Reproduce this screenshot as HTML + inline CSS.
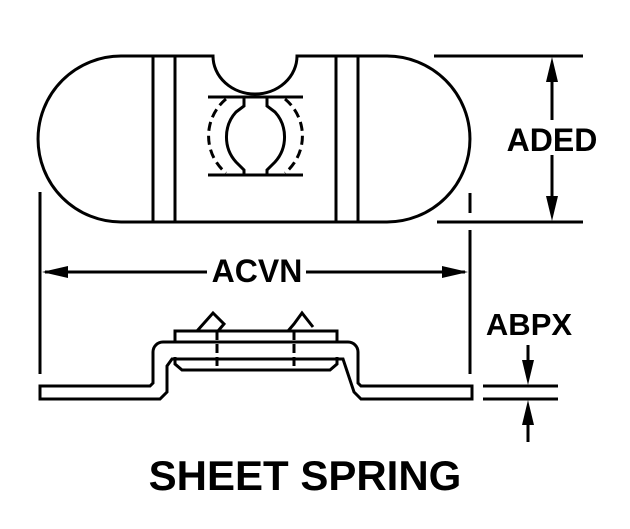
<!DOCTYPE html>
<html><head><style>body{margin:0;background:#fff}svg{display:block}</style></head><body>
<svg width="630" height="529" viewBox="0 0 630 529" xmlns="http://www.w3.org/2000/svg" fill="none" stroke="#000" stroke-width="3">
<path d="M121 56 H213 A42 38 0 0 0 297 56 H387 A83 83 0 0 1 387 222 H121 A83 83 0 0 1 121 56 Z"/>
<line x1="153" y1="56" x2="153" y2="222"/><line x1="175" y1="56" x2="175" y2="222"/>
<line x1="336" y1="56" x2="336" y2="222"/><line x1="358" y1="56" x2="358" y2="222"/>
<line x1="208" y1="97" x2="303" y2="97"/><line x1="208" y1="175" x2="303" y2="175"/>
<path d="M244 97 V106 L236 112 A34 36 0 0 0 236 162 L244 170 V175"/>
<path d="M267 97 V106 L275 112 A34 36 0 0 1 275 162 L267 170 V175"/>
<path d="M226 99 A48 48 0 0 0 226 173" stroke-dasharray="9 5"/>
<path d="M285 99 A48 48 0 0 1 285 173" stroke-dasharray="9 5"/>
<line x1="434" y1="56" x2="583" y2="56"/><line x1="437" y1="222" x2="583" y2="222"/>
<line x1="552" y1="70" x2="552" y2="120"/><line x1="552" y1="155" x2="552" y2="208"/>
<polygon points="552,57 546,82 558,82" fill="#000" stroke="none"/>
<polygon points="552,221 546,196 558,196" fill="#000" stroke="none"/>
<line x1="470" y1="193" x2="470" y2="213"/>
<line x1="40" y1="192" x2="40" y2="374"/><line x1="470" y1="230" x2="470" y2="374"/>
<line x1="45" y1="272" x2="207" y2="272"/><line x1="306" y1="272" x2="465" y2="272"/>
<polygon points="42,272 68,266 68,278" fill="#000" stroke="none"/>
<polygon points="468,272 442,266 442,278" fill="#000" stroke="none"/>
<path d="M40 386 H150 L153 383 V352 A10 10 0 0 1 163 342 H348 A10 10 0 0 1 358 352 V383 L361 386 H472 V399 H361 L354 392 L343 359 H172 L167 366 V392 L160 399 H40 Z"/>
<rect x="175" y="331" width="162" height="11"/>
<path d="M175 357 V364 L182 370 H330 L337 364 V357"/>
<path d="M197 331 L213 313 L224 324 L218 331"/>
<path d="M288 331 L294 324 L302 313 L313 327"/>
<line x1="217" y1="331" x2="217" y2="366" stroke-dasharray="9 4"/>
<line x1="294" y1="331" x2="294" y2="366" stroke-dasharray="9 4"/>
<line x1="483" y1="386" x2="558" y2="386"/><line x1="483" y1="399" x2="558" y2="399"/>
<line x1="528" y1="345" x2="528" y2="370"/><line x1="528" y1="415" x2="528" y2="442"/>
<polygon points="528,385 522,360 534,360" fill="#000" stroke="none"/>
<polygon points="528,400 522,425 534,425" fill="#000" stroke="none"/>
<g fill="#000" stroke="none" font-family="Liberation Sans, sans-serif" font-weight="bold">
<text x="552" y="151" font-size="32" text-anchor="middle">ADED</text>
<text x="257" y="282" font-size="32" text-anchor="middle">ACVN</text>
<text x="529" y="335" font-size="31" text-anchor="middle">ABPX</text>
<text x="305" y="490" font-size="42" text-anchor="middle">SHEET SPRING</text>
</g>
</svg>
</body></html>
